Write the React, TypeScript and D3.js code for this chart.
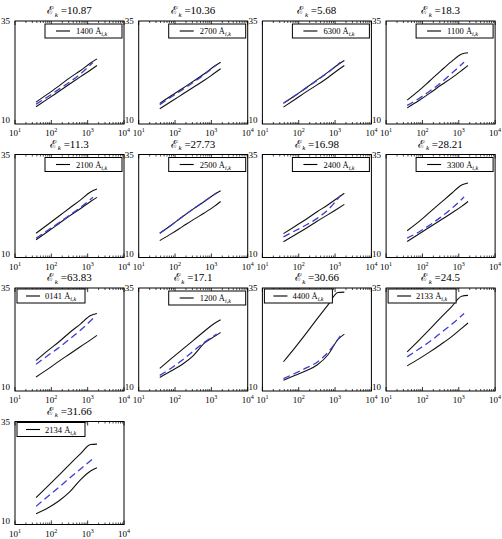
import React from "react";
import * as d3 from "d3";

// sample positions along the log axis
const xSolid = [38, 80, 160, 320, 640, 1200, 1800];
const xDashed = [38, 80, 160, 320, 640, 1400];

const energies = ["10.87", "10.36", "5.68", "18.3", "11.3", "27.73", "16.98", "28.21", "63.83", "17.1", "30.66", "24.5", "31.66"];
const legendLabels = ["1400", "2700", "6300", "1100", "2100", "2500", "2400", "3300", "0141", "1200", "4400", "2133", "2134"];

const upperSeries = [
  [15.3, 17.3, 19.2, 21.2, 23.0, 24.8, 25.8],
  [15.0, 16.9, 18.6, 20.4, 22.2, 24.0, 25.0],
  [15.0, 16.9, 18.8, 20.7, 22.6, 24.4, 25.4],
  [15.8, 18.1, 20.5, 22.9, 25.2, 27.0, 27.3],
  [15.9, 18.0, 20.0, 22.0, 24.0, 25.9, 26.6],
  [15.9, 17.9, 19.9, 21.8, 23.6, 25.3, 26.2],
  [15.8, 17.6, 19.3, 21.1, 22.8, 24.5, 25.6],
  [16.5, 18.7, 21.0, 23.3, 25.6, 27.6, 28.1],
  [17.4, 19.8, 21.9, 24.2, 26.3, 28.3, 28.8],
  [15.5, 17.9, 20.1, 22.3, 24.5, 26.4, 27.3],
  [17.1, 20.6, 24.0, 27.5, 30.9, 33.9, 34.0],
  [19.5, 22.3, 25.0, 27.8, 30.5, 33.0, 33.2],
  [16.5, 19.3, 21.9, 24.6, 27.2, 29.4, 29.5],
];

const lowerSeries = [
  [14.2, 16.1, 17.9, 19.7, 21.5, 23.1, 24.2],
  [13.7, 15.5, 17.2, 18.9, 20.6, 22.3, 23.4],
  [14.1, 16.0, 17.8, 19.5, 21.3, 23.1, 24.2],
  [13.9, 15.7, 17.5, 19.4, 21.2, 23.0, 24.2],
  [14.3, 16.3, 18.2, 20.1, 21.9, 23.6, 24.6],
  [14.1, 15.8, 17.5, 19.2, 20.8, 22.4, 23.6],
  [13.8, 15.5, 17.1, 18.8, 20.4, 21.9, 22.9],
  [13.9, 15.7, 17.4, 19.1, 20.8, 22.4, 23.6],
  [13.4, 15.3, 17.2, 19.0, 20.8, 22.4, 23.5],
  [13.3, 14.9, 16.5, 18.6, 21.6, 23.2, 24.2],
  [12.6, 13.8, 14.9, 16.3, 18.8, 22.5, 23.8],
  [16.1, 17.8, 19.5, 21.3, 23.2, 25.2, 26.5],
  [12.6, 14.0, 15.7, 17.9, 20.9, 23.0, 23.8],
];

const dashedSeries = [
  [14.8, 16.6, 18.4, 20.2, 22.2, 24.9],
  [14.7, 16.6, 18.3, 20.1, 22.0, 24.4],
  [15.1, 16.9, 18.7, 20.6, 22.5, 25.0],
  [14.5, 16.2, 18.0, 20.0, 22.3, 25.0],
  [14.7, 16.6, 18.4, 20.3, 22.2, 24.6],
  [15.9, 17.9, 19.9, 21.8, 23.6, 25.7],
  [15.0, 16.5, 17.9, 19.5, 21.6, 25.0],
  [14.7, 16.2, 17.9, 19.8, 21.9, 24.7],
  [16.5, 18.6, 20.5, 22.6, 24.8, 27.6],
  [13.8, 15.6, 17.5, 19.7, 21.8, 23.8],
  [13.0, 14.3, 15.6, 17.0, 19.4, 23.4],
  [18.3, 20.2, 22.0, 24.1, 26.2, 28.8],
  [14.4, 16.8, 19.0, 21.3, 23.5, 26.0],
];

const xTickExps = [1, 2, 3, 4];
const yTickLabels = ["10", "35"];

const leftLegendPanels = new Set([8, 10, 11, 12]);

const W = 502, H = 539;
const boxW = 109, boxH = 103;
const colStep = 123.7, rowStep = 133.5;
const serif = "'Liberation Serif', 'Times New Roman', serif";
const blue = "#3c3cd8";

const minorTicks = d3.range(1, 4).flatMap(e => d3.range(2, 10).map(m => m * Math.pow(10, e)));

function Panel({ idx }: { idx: number }) {
  const col = idx % 4, row = Math.floor(idx / 4);
  const left = 15 + col * colStep;
  const top = 21 + row * rowStep;

  const x = d3.scaleLog().domain([10, 10000]).range([0, boxW]);
  const y = d3.scaleLinear().domain([10, 35]).range([boxH, 0]);
  const line = d3.line<[number, number]>()
    .x(d => x(d[0]))
    .y(d => y(d[1]))
    .curve(d3.curveMonotoneX);

  const up = line(xSolid.map((v, i) => [v, upperSeries[idx][i]]));
  const lo = line(xSolid.map((v, i) => [v, lowerSeries[idx][i]]));
  const da = line(xDashed.map((v, i) => [v, dashedSeries[idx][i]]));

  const onLeft = leftLegendPanels.has(idx);
  const lgW = onLeft ? 68 : 77;
  const lgX = onLeft ? 2 : boxW - lgW - 2;
  const lgY = onLeft ? 1 : 3;

  return (
    <g transform={`translate(${left},${top})`}>
      <text x={boxW / 2} y={-7} textAnchor="middle" fontFamily={serif} fontSize={11}>
        <tspan fontFamily="'DejaVu Serif', serif" fontSize={11}>ℰ</tspan>
        <tspan fontSize={7} dx={0.5} dy={2.5} fontStyle="italic">k</tspan>
        <tspan dy={-2.5}>{" =" + energies[idx]}</tspan>
      </text>

      <rect x={0} y={0} width={boxW} height={boxH} fill="white" stroke="black" strokeWidth={1} />

      {xTickExps.map(e => (
        <g key={e}>
          <line x1={x(Math.pow(10, e))} x2={x(Math.pow(10, e))} y1={boxH} y2={boxH - 4} stroke="black" strokeWidth={0.8} />
          <line x1={x(Math.pow(10, e))} x2={x(Math.pow(10, e))} y1={0} y2={4} stroke="black" strokeWidth={0.8} />
          <text x={x(Math.pow(10, e))} y={boxH + 12} textAnchor="middle" fontFamily={serif} fontSize={9}>
            10<tspan fontSize={6} dy={-4}>{e}</tspan>
          </text>
        </g>
      ))}
      {minorTicks.map((t, i) => (
        <g key={i}>
          <line x1={x(t)} x2={x(t)} y1={boxH} y2={boxH - 2} stroke="black" strokeWidth={0.7} />
          <line x1={x(t)} x2={x(t)} y1={0} y2={2} stroke="black" strokeWidth={0.7} />
        </g>
      ))}

      <text x={-5} y={y(35) + 3} textAnchor="end" fontFamily={serif} fontSize={9}>{yTickLabels[1]}</text>
      <text x={-5} y={y(10) - 1} textAnchor="end" fontFamily={serif} fontSize={9}>{yTickLabels[0]}</text>

      <path d={up ?? ""} fill="none" stroke="#111" strokeWidth={1.1} />
      <path d={lo ?? ""} fill="none" stroke="#111" strokeWidth={1.1} />
      <path d={da ?? ""} fill="none" stroke={blue} strokeWidth={1.3} strokeDasharray="7,4" />

      <g transform={`translate(${lgX},${lgY})`}>
        <rect x={0} y={0} width={lgW} height={14} fill="white" stroke="black" strokeWidth={1} />
        <line x1={onLeft ? 9 : 11} x2={onLeft ? 23 : 25} y1={7} y2={7} stroke="black" strokeWidth={1.1} />
        <text x={onLeft ? 28 : 31} y={10} fontFamily={serif} fontSize={8.5}>
          {legendLabels[idx] + " Å"}
          <tspan fontSize={6} dy={2} fontStyle="italic">i,k</tspan>
        </text>
      </g>
    </g>
  );
}

export default function App() {
  return (
    <svg width={W} height={H} style={{ position: "absolute", left: 0, top: 0, background: "white" }}>
      {energies.map((_, i) => <Panel key={i} idx={i} />)}
    </svg>
  );
}
